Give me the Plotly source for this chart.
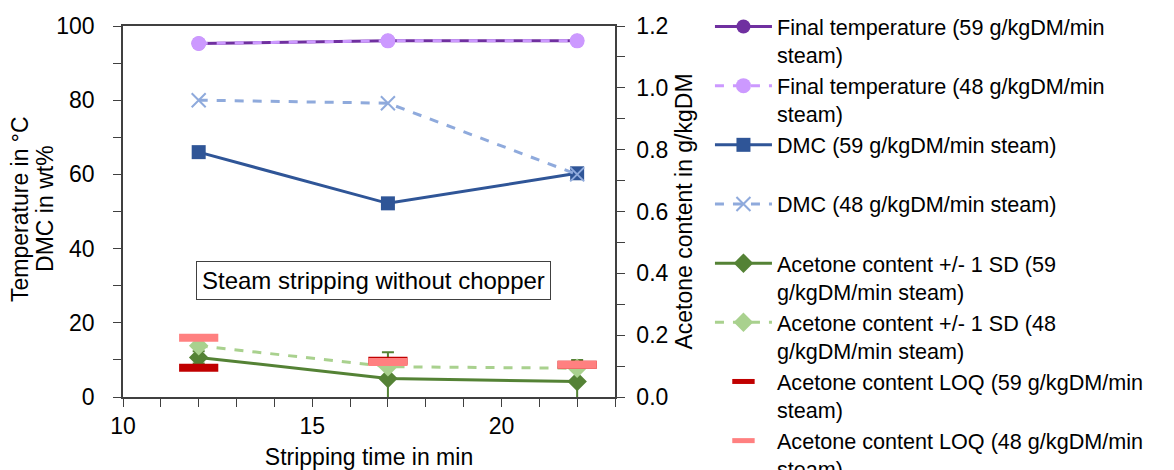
import plotly.graph_objects as go

time_min = [12, 17, 22]
temp_59 = [95.3, 96.0, 96.0]
temp_48 = [95.3, 96.0, 96.0]
dmc_59 = [66.0, 52.2, 60.3]
dmc_48 = [80.0, 79.2, 60.0]
acetone_59 = [0.128, 0.060, 0.050]
acetone_59_sd = [0.02, 0.085, 0.07]
acetone_48 = [0.166, 0.098, 0.093]
loq_59 = [0.095, 0.117, 0.104]
loq_48 = [0.192, 0.113, 0.104]

names = [
    "Final temperature (59 g/kgDM/min<br>steam)",
    "Final temperature (48 g/kgDM/min<br>steam)",
    "DMC (59 g/kgDM/min steam)<br> ",
    "DMC (48 g/kgDM/min steam)<br> ",
    "Acetone content +/- 1 SD (59<br>g/kgDM/min steam)",
    "Acetone content +/- 1 SD (48<br>g/kgDM/min steam)",
    "Acetone content LOQ (59 g/kgDM/min<br>steam)",
    "Acetone content LOQ (48 g/kgDM/min<br>steam)",
]
left_title_lines = ["Temperature in °C", "DMC in wt%"]

FONT = "Liberation Sans, Arial, sans-serif"
FS = 23

fig = go.Figure()
fig.add_trace(go.Scatter(x=time_min, y=temp_59, name=names[0], mode="lines+markers",
                         line=dict(color="#7030A0", width=3),
                         marker=dict(symbol="circle", size=14, color="#7030A0")))
fig.add_trace(go.Scatter(x=time_min, y=temp_48, name=names[1], mode="lines+markers",
                         line=dict(color="#CC99FF", width=3, dash="dash"),
                         marker=dict(symbol="circle", size=15, color="#CC99FF")))
fig.add_trace(go.Scatter(x=time_min, y=dmc_59, name=names[2], mode="lines+markers",
                         line=dict(color="#2F5597", width=3),
                         marker=dict(symbol="square", size=14, color="#2F5597")))
fig.add_trace(go.Scatter(x=time_min, y=dmc_48, name=names[3], mode="lines+markers",
                         line=dict(color="#8FAADC", width=3, dash="dash"),
                         marker=dict(symbol="x-thin", size=14, color="#8FAADC",
                                     line=dict(color="#8FAADC", width=2))))
fig.add_trace(go.Scatter(x=time_min, y=acetone_59, name=names[4], mode="lines+markers",
                         yaxis="y2",
                         line=dict(color="#548235", width=3),
                         marker=dict(symbol="diamond", size=15, color="#548235"),
                         error_y=dict(type="data", array=acetone_59_sd, visible=True,
                                      color="#548235", thickness=2, width=6)))
fig.add_trace(go.Scatter(x=time_min, y=acetone_48, name=names[5], mode="lines+markers",
                         yaxis="y2",
                         line=dict(color="#A9D18E", width=3, dash="dash"),
                         marker=dict(symbol="diamond", size=15, color="#A9D18E")))
fig.add_trace(go.Scatter(x=time_min, y=loq_59, name=names[6], mode="markers",
                         yaxis="y2",
                         marker=dict(symbol="line-ew", size=28, color="#C00000",
                                     line=dict(color="#C00000", width=8))))
fig.add_trace(go.Scatter(x=time_min, y=loq_48, name=names[7], mode="markers",
                         yaxis="y2",
                         marker=dict(symbol="line-ew", size=28, color="#FF8080",
                                     line=dict(color="#FF8080", width=8))))

fig.add_annotation(x=16.63, y=31.3, xref="x", yref="y",
                   text="Steam stripping without chopper", showarrow=False,
                   font=dict(family=FONT, size=24, color="black"),
                   bordercolor="#404040", borderwidth=1, borderpad=5, bgcolor="white")

# left axis title (two lines, tight line spacing)
for txt, xp in zip(left_title_lines, [-0.2093, -0.1585]):
    fig.add_annotation(x=xp, y=0.507, xref="paper", yref="paper", text=txt,
                       showarrow=False, textangle=-90, xanchor="center", yanchor="middle",
                       font=dict(family=FONT, size=FS, color="black"))

axis_common = dict(showgrid=False, zeroline=False, showline=True, linecolor="#404040",
                   linewidth=1.5, ticks="outside", tickcolor="#404040", ticklen=8,
                   automargin=False,
                   tickfont=dict(family=FONT, size=FS, color="black"))

fig.update_layout(
    width=1174, height=470,
    margin=dict(l=123, r=559, t=26, b=73, autoexpand=False),
    paper_bgcolor="white", plot_bgcolor="white",
    font=dict(family=FONT, size=FS, color="black"),
    xaxis=dict(range=[10, 23], tickvals=[10, 15, 20], mirror=True, ticklabelstandoff=0,
               minor=dict(dtick=1, tick0=10, ticks="outside", ticklen=8, tickcolor="#404040"),
               title=dict(text="Stripping time in min", font=dict(family=FONT, size=FS), standoff=17),
               **axis_common),
    yaxis=dict(range=[0, 100], dtick=20, ticklabelstandoff=14,
               minor=dict(dtick=10, ticks="outside", ticklen=8, tickcolor="#404040"),
               **axis_common),
    yaxis2=dict(range=[0, 1.2], dtick=0.2, tickformat=".1f", overlaying="y", side="right",
                ticklabelstandoff=7,
                minor=dict(dtick=0.1, ticks="outside", ticklen=8, tickcolor="#404040"),
                title=dict(text="Acetone content in g/kgDM", font=dict(family=FONT, size=FS), standoff=8),
                **axis_common),
    legend=dict(x=1.193, xanchor="left", y=1.054, yanchor="top", valign="top",
                font=dict(family=FONT, size=21.6, color="black"),
                tracegroupgap=0, itemwidth=57, maxheight=900, bgcolor="rgba(0,0,0,0)"),
    showlegend=True,
)

fig.write_html("out.html", config={"displayModeBar": False},
               post_script="document.body.style.margin='0';")
